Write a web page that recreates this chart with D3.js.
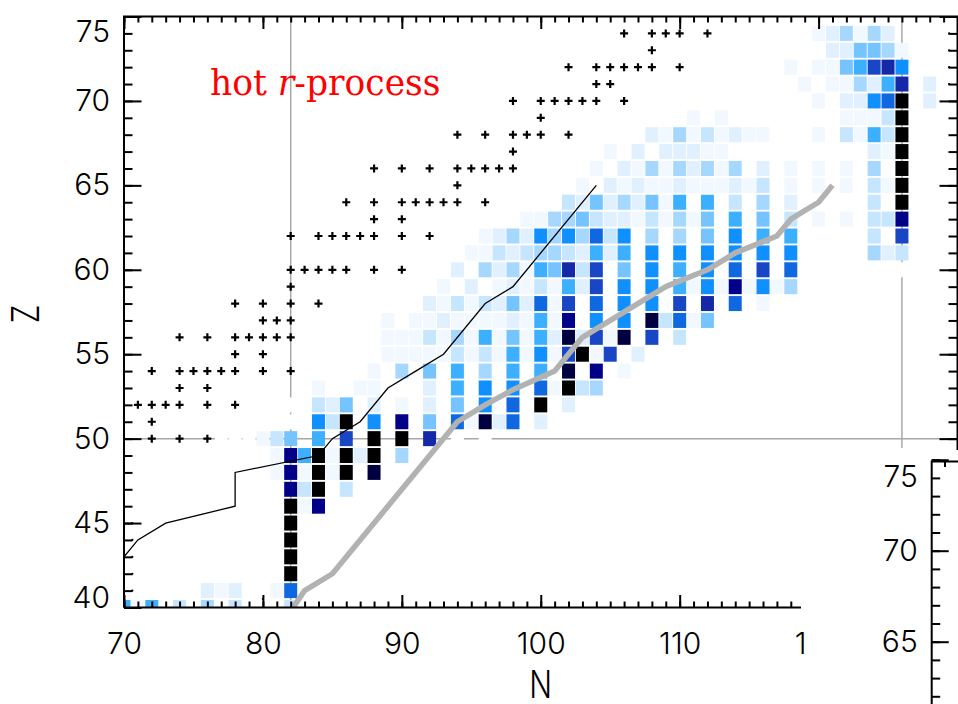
<!DOCTYPE html>
<html>
<head>
<meta charset="utf-8">
<script src="https://cdn.jsdelivr.net/npm/d3@7"></script>
<style>
  body { margin: 0; background: #fff; }
  svg { display: block; }
  .axis text { font-family: Inter, "Open Sans", sans-serif; font-weight: 300; font-size: 30px; fill: #000; }
  .axis line { stroke: #000; stroke-width: 2; }
  .axis .domain { display: none; }
  .title { font-family: Inter, "Open Sans", sans-serif; font-weight: 300; font-size: 30px; fill: #000; }
</style>
</head>
<body>
<svg id="chart" width="958" height="704"></svg>
<script>
// Abundance cells, one row per Z: first N of the row, then one char per N
// ('.' = empty, '0' = blank cell, '1'..'9','a','b','c' = rising abundance, 'k' = highest)
var rowZ = [40, 41, 42, 43, 44, 45, 46, 47, 48, 49, 50, 51, 52, 53, 54, 55, 56, 57,
  58, 59, 60, 61, 62, 63, 64, 65, 66, 67, 68, 69, 70, 71, 72, 73, 74];
var rowStartN = [70, 76, 82, 82, 82, 82, 82, 82, 81, 81, 77, 82, 82, 84, 88, 89, 89, 89,
  92, 93, 94, 95, 96, 99, 102, 103, 104, 105, 108, 111, 120, 119, 118, 121, 120];
var rowLevels = [
  "616.3.4.3...3",
  "212..18",
  "k", "k", "k", "k",
  "k1b",
  "b3k.3",
  "1b1k1k.c",
  "1b6k1k2k.4",
  "000135.6.9.k.k.a.0.0",
  "0.73k.7.b.5.81c28.2",
  "0.325.2.1.2.5.7.8.k.2",
  "1..11...2.6.7.7.81k34",
  "1.4.5.6.4.6.6.c.b.1",
  "11111313161719k19.2",
  "1113141615162c291c.9.3",
  "1.11211112161b.7.7.c3815",
  "21313252819.8.7.7.9.a.8.1",
  "1.2.12131629.7.7.6171b1714",
  "2.424165a39.5.7.6.7.8.9.8.......0",
  "113234432626.7.7.7.7.7.7.....423",
  "12427474837.4.4.5.7.6.6.....3.9",
  "11445322131415.6.5.3.1.1.33b",
  "325242516.6.3.4.2.....3.k",
  "1.212112111213.1.1.1.31k",
  "1.214142414.2.1.1.1.4.k",
  "1.2.22211..........21k",
  "214131211...1.3163k",
  "1.1........1113k",
  "1.2278k.2",
  "1.11426a.2",
  "1.11569a7",
  "225541",
  "124142"
];
var levelKeys = ["0", "1", "2", "3", "4", "5", "6", "7", "8", "9", "a", "b", "c", "k"];
var levelColors = ["#ffffff", "#f1f8ff", "#e0f0ff", "#c6e5ff", "#a6d7ff", "#76c4ff", "#3cb0ff",
  "#1090ff", "#1068e0", "#1846c4", "#1428a8", "#000088", "#000040", "#000000"];

// Stable nuclei (plus markers), N values per Z
var stableZ = [50, 51, 52, 53, 54, 55, 56, 57, 58, 59, 60, 62, 63, 64, 65, 66, 67, 68, 69, 70, 71, 72, 73, 74];
var stableN = [
  [72, 74, 76], [72], [71, 72, 73, 74, 76, 78], [74, 76],
  [72, 74, 75, 76, 77, 78, 80, 82], [78, 80], [74, 76, 78, 79, 80, 81, 82], [80, 81, 82],
  [78, 80, 82, 84], [82], [82, 83, 84, 85, 86, 88, 90], [82, 84, 85, 86, 87, 88, 90, 92],
  [88, 90], [86, 88, 90, 91, 92, 93, 94, 96], [94], [88, 90, 92, 94, 95, 96, 97, 98],
  [98], [94, 96, 98, 99, 100, 102], [100], [98, 100, 101, 102, 103, 104, 106],
  [104, 105], [102, 104, 105, 106, 107, 108, 110], [108], [106, 108, 109, 110, 112]
];

// Small dots
var dotN = [70.6, 70.6, 70.6, 70.6, 70.6, 80, 129.4, 129.4, 129.4, 129.4];
var dotZ = [41, 42, 43, 44, 45, 40.5, 71, 72, 73, 74];

// Thin black path
var pathN = [70, 71, 73, 78, 78, 84, 85, 87, 89, 91, 93, 96, 98, 104];
var pathZ = [43, 44, 45, 46, 48, 49, 50, 51, 53, 54, 55, 58, 59, 65];

// Thick gray path
var grayN = [82, 83, 85, 94, 96, 98, 101, 103, 109, 112, 114, 117, 118, 120, 121];
var grayZ = [39.8, 41, 42, 51, 52, 52.9, 54, 56, 59, 60, 61, 62, 63, 64, 65];

// Tick values
var xMajorTicks = [70, 80, 90, 100, 110, 120];
var yMajorTicks = [40, 45, 50, 55, 60, 65, 70, 75];
var y2MajorTicks = [65, 70, 75];

var svg = d3.select("#chart");
var x = d3.scaleLinear().domain([70, 130]).range([124, 957.5]);
var y = d3.scaleLinear().domain([40, 75]).range([607.5, 16.5]);
var y2 = d3.scaleLinear().domain([60, 75]).range([732.7, 459.7]);
var colorScale = d3.scaleOrdinal().domain(levelKeys).range(levelColors);
var cellW = 13, cellH = 15;

svg.append("rect").attr("width", 958).attr("height", 704).attr("fill", "#fff");

svg.append("clipPath").attr("id", "plotClip")
  .append("rect")
  .attr("x", x(70)).attr("y", y(75))
  .attr("width", x(130) - x(70)).attr("height", y(40) - y(75));

var plot = svg.append("g").attr("clip-path", "url(#plotClip)");

// gray reference lines (magic numbers)
var refColor = "#a8a8a8";
plot.append("line")
  .attr("x1", x(82)).attr("x2", x(82)).attr("y1", y(75)).attr("y2", y(40))
  .attr("stroke", refColor).attr("stroke-width", 1.5);
plot.append("line")
  .attr("x1", x(126)).attr("x2", x(126)).attr("y1", y(75)).attr("y2", 448)
  .attr("stroke", refColor).attr("stroke-width", 1.5);
plot.append("line")
  .attr("x1", x(70)).attr("x2", x(130)).attr("y1", y(50)).attr("y2", y(50))
  .attr("stroke", refColor).attr("stroke-width", 1.5);

// cells
var cells = [];
rowZ.forEach(function(z, i) {
  var s = rowLevels[i];
  for (var k = 0; k < s.length; k++) {
    if (s[k] !== ".") cells.push({ n: rowStartN[i] + k, z: z, level: s[k] });
  }
});

plot.selectAll(".cell")
  .data(cells)
  .enter()
  .append("rect")
  .classed("cell", true)
  .attr("x", function(d) { return x(d.n) - cellW / 2; })
  .attr("y", function(d) { return y(d.z) - cellH / 2; })
  .attr("width", cellW)
  .attr("height", cellH)
  .attr("fill", function(d) { return colorScale(d.level); });

var line = d3.line()
  .x(function(d) { return x(d[0]); })
  .y(function(d) { return y(d[1]); });

plot.append("path")
  .attr("d", line(pathN.map(function(n, i) { return [n, pathZ[i]]; })))
  .attr("fill", "none").attr("stroke", "#000").attr("stroke-width", 1.3);

plot.append("path")
  .attr("d", line(grayN.map(function(n, i) { return [n, grayZ[i]]; })))
  .attr("fill", "none").attr("stroke", "#b2b2b2").attr("stroke-width", 5.5)
  .attr("stroke-linejoin", "round");

// stable nuclei
var stable = [];
stableZ.forEach(function(z, i) {
  stableN[i].forEach(function(n) { stable.push({ n: n, z: z }); });
});
plot.selectAll(".stable")
  .data(stable)
  .enter()
  .append("path")
  .classed("stable", true)
  .attr("transform", function(d) { return "translate(" + x(d.n) + "," + y(d.z) + ")"; })
  .attr("d", "M-4,0H4M0,-4V4")
  .attr("stroke", "#000").attr("stroke-width", 2.2);

plot.selectAll(".dot")
  .data(dotN.map(function(n, i) { return { n: n, z: dotZ[i] }; }))
  .enter()
  .append("circle")
  .classed("dot", true)
  .attr("cx", function(d) { return x(d.n); })
  .attr("cy", function(d) { return y(d.z); })
  .attr("r", 1.1)
  .attr("fill", "#000");

// label
var label = svg.append("text")
  .attr("x", 210).attr("y", 95)
  .attr("font-family", "DejaVu Serif, serif")
  .attr("font-size", 34.5)
  .attr("fill", "#ff0000");
label.append("tspan").text("hot ");
label.append("tspan").attr("font-style", "italic").text("r");
label.append("tspan").text("-process");

// axes
function intRange(a, b) { return d3.range(a, b + 1); }

// left
svg.append("g").attr("class", "axis").attr("transform", "translate(" + x(70) + ",0)")
  .call(d3.axisLeft(y).tickValues(intRange(40, 75)).tickSizeInner(-8.5).tickSizeOuter(0).tickFormat(""));
svg.append("g").attr("class", "axis").attr("transform", "translate(" + x(70) + ",0)")
  .call(d3.axisLeft(y).tickValues(yMajorTicks).tickSizeInner(-17.5).tickSizeOuter(0).tickPadding(14))
  .selectAll("text")
  .attr("y", function(d) { return d === 75 ? 15 : (d === 40 ? -10 : 0); });

// right (upper part only)
svg.append("g").attr("class", "axis").attr("transform", "translate(" + x(130) + ",0)")
  .call(d3.axisRight(y).tickValues(intRange(50, 75)).tickSizeInner(-9).tickSizeOuter(0).tickFormat(""));
svg.append("g").attr("class", "axis").attr("transform", "translate(" + x(130) + ",0)")
  .call(d3.axisRight(y).tickValues([50, 55, 60, 65, 70, 75]).tickSizeInner(-18).tickSizeOuter(0).tickFormat(""));

// top
svg.append("g").attr("class", "axis").attr("transform", "translate(0," + y(75) + ")")
  .call(d3.axisTop(x).tickValues(intRange(70, 130)).tickSizeInner(-6).tickSizeOuter(0).tickFormat(""));
svg.append("g").attr("class", "axis").attr("transform", "translate(0," + y(75) + ")")
  .call(d3.axisTop(x).tickValues(d3.range(70, 131, 10)).tickSizeInner(-12.5).tickSizeOuter(0).tickFormat(""));

// bottom (cut at the neighbouring panel)
svg.append("clipPath").attr("id", "bottomClip")
  .append("rect").attr("x", 0).attr("y", 0).attr("width", 801).attr("height", 620);
svg.append("clipPath").attr("id", "labelClip")
  .append("rect").attr("x", 0).attr("y", 620).attr("width", 805).attr("height", 84);
var bottomAxis = svg.append("g").attr("class", "axis").attr("transform", "translate(0," + y(40) + ")");
bottomAxis.append("g").attr("clip-path", "url(#bottomClip)")
  .attr("transform", "translate(0," + (-y(40)) + ")")
  .append("g").attr("transform", "translate(0," + y(40) + ")")
  .call(d3.axisBottom(x).tickValues(intRange(70, 122)).tickSizeInner(-6).tickSizeOuter(0).tickFormat(""));
var majorBottom = bottomAxis.append("g").attr("transform", "translate(0," + (-y(40)) + ")")
  .append("g").attr("transform", "translate(0," + y(40) + ")")
  .call(d3.axisBottom(x).tickValues(xMajorTicks).tickSizeInner(-12.5).tickSizeOuter(0).tickPadding(25));
majorBottom.selectAll(".tick line").filter(function(d) { return d > 118; }).remove();
majorBottom.node().parentNode.setAttribute("clip-path", "url(#labelClip)");
bottomAxis.append("g").attr("transform", "translate(0," + (-y(40)) + ")")
  .append("g").attr("transform", "translate(0," + y(40) + ")")
  .call(d3.axisBottom(x).tickValues(xMajorTicks.filter(function(d) { return d < 118; }))
    .tickSizeInner(-12.5).tickSizeOuter(0).tickFormat(""));

// frame
var frame = svg.append("g").attr("stroke", "#000").attr("stroke-width", 2).attr("fill", "none");
frame.append("path")
  .attr("d", "M" + x(70) + "," + y(40) + "V" + y(75) + "H" + x(130) + "V450");
frame.append("path")
  .attr("d", "M" + x(70) + "," + y(40) + "H801");

// titles
svg.append("text")
  .attr("class", "title")
  .attr("transform", "translate(39,314) rotate(-90) scale(1,1.25)")
  .attr("text-anchor", "middle")
  .text("Z");
svg.append("text")
  .attr("class", "title")
  .attr("transform", "translate(" + x(100) + ",698) scale(1,1.25)")
  .attr("text-anchor", "middle")
  .text("N");

// neighbouring panel (bottom right)
var x2 = 931.7;
svg.append("g").attr("class", "axis").attr("transform", "translate(" + x2 + ",0)")
  .call(d3.axisLeft(y2).tickValues(intRange(61, 75)).tickSizeInner(-8.5).tickSizeOuter(0).tickFormat(""));
svg.append("g").attr("class", "axis").attr("transform", "translate(" + x2 + ",0)")
  .call(d3.axisLeft(y2).tickValues(y2MajorTicks).tickSizeInner(-17).tickSizeOuter(0).tickPadding(14))
  .selectAll("text")
  .attr("y", function(d) { return d === 75 ? 17 : 0; });
svg.append("path")
  .attr("d", "M" + x2 + ",704V" + 461.5 + "H958M945,461.5V467")
  .attr("stroke", "#000").attr("stroke-width", 2).attr("fill", "none");
</script>
</body>
</html>
